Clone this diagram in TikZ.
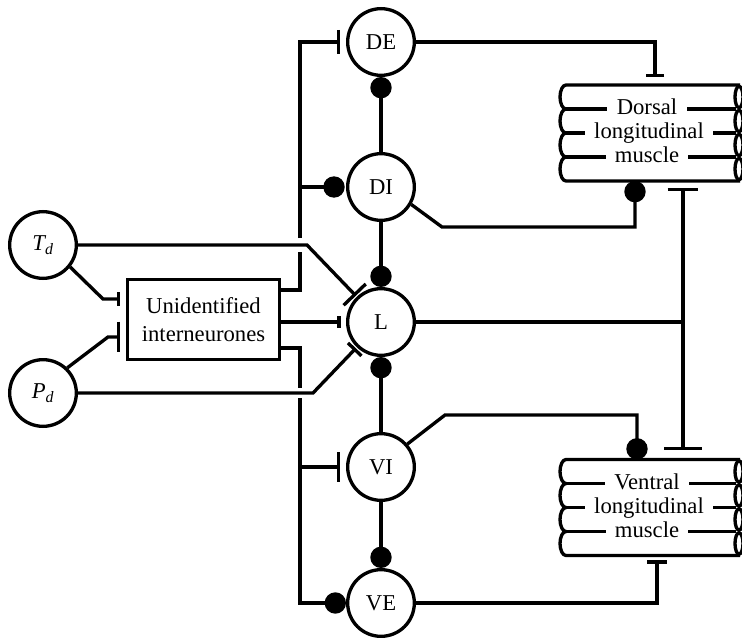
\documentclass[tikz,border=0pt]{standalone}
\usepackage{fontspec}
\setmainfont{Liberation Serif}
\usetikzlibrary{calc}
\usetikzlibrary{arrows.meta}
\tikzset{
	neuron/.style={draw, circle, minimum size=50pt, inner sep=0pt},
	inh/.style={-{Bar[width=#1]}},
	inh/.default=14pt,
	exc/.style={-{Circle[length=16pt]}},
	muscle/.style={minimum width=130.5pt, minimum height=72pt, inner sep=0pt, outer sep=0pt},
	fibre/.style={fill=white, inner xsep=7pt, inner ysep=0pt, text height=12pt, text depth=3.5pt},
}

\begin{document}
\begin{tikzpicture}[x=0.75pt, y=-0.75pt, line width=2.5pt, font=\fontsize{17}{21}\selectfont]
	\useasboundingbox (0,0) rectangle (742,638);
	\node[neuron] (de) at (381,42) {DE};
	\node[neuron] (di) at (381,187) {DI};
	\node[neuron] (l) at (381,322) {L};
	\node[neuron] (vi) at (381,467) {VI};
	\node[neuron] (ve) at (381,603) {VE};
	\node[neuron] (td) at (43,245) {\textit{T\textsubscript{d}}};
	\node[neuron] (pd) at (43,393) {\textit{P\textsubscript{d}}};
	\node[draw, minimum width=114pt, minimum height=60pt, inner sep=0pt, align=center] (ui) at (203.5,319.5) {Unidentified\\interneurones};
	\node[muscle] (dm) at (653,133) {};
	\node[muscle] (vm) at (653,507.5) {};
	\foreach \m in {dm,vm} {
		\draw (\m.north east) -- (\m.north west)
			arc[start angle=90, end angle=270, x radius=4.5pt, y radius=9pt]
			arc[start angle=90, end angle=270, x radius=4.5pt, y radius=9pt]
			arc[start angle=90, end angle=270, x radius=4.5pt, y radius=9pt]
			arc[start angle=90, end angle=270, x radius=4.5pt, y radius=9pt]
			-- (\m.south east);
		\foreach \i in {0,...,3}
			\draw ($(\m.north east)+(-1,24*\i+12)$) ellipse[x radius=3pt, y radius=8pt];
		\foreach \i in {1,2,3}
			\draw ($(\m.north west)+(0,24*\i)$) -- ($(\m.north east)+(-4,24*\i)$);
	}
	\node[fibre] (dm1) at ($(dm.north)+(-6,24)$) {Dorsal};
	\node[fibre] (dm2) at ($(dm.north)+(-4,48)$) {longitudinal};
	\node[fibre] (dm3) at ($(dm.north)+(-6,72)$) {muscle};
	\node[fibre] (vm1) at ($(vm.north)+(-6,24)$) {Ventral};
	\node[fibre] (vm2) at ($(vm.north)+(-4,48)$) {longitudinal};
	\node[fibre] (vm3) at ($(vm.north)+(-6,72)$) {muscle};
	\coordinate (bt) at (300,42);
	\coordinate (bb) at (300,603);
	\coordinate (lj) at (683,322);
	\draw (ui.east |- 0,290) -- (300,290) -- (300,252);
	\draw[inh=18pt, shorten >=4.5pt] (300,238) -- (bt) -- (de);
	\draw[exc, shorten >=1pt] (300,187) -- (di);
	\draw (ui.east |- 0,348) -- (300,348) -- (300,388);
	\draw[exc] (300,398) -- (bb) -- (ve);
	\draw[inh=22pt, shorten >=4.5pt] (300,467) -- (vi);
	\draw[inh=9pt, shorten >=4pt] (ui.east |- 0,322) -- (l);
	\draw[inh=23pt, shorten >=1pt] (td.east) -- (307,245) -- (l);
	\draw[inh=14pt, shorten >=1pt] (pd.east) -- (313,393) -- (l);
	\draw[inh=10pt, shorten >=4.5pt] (td.-39) -- (103,299) -- (ui.west |- 0,299);
	\draw[inh=23pt, shorten >=4.5pt] (pd.46) -- (108,337) -- (ui.west |- 0,337);
	\draw[exc] (di) -- (de);
	\draw[exc] (di) -- (l);
	\draw[exc] (vi) -- (l);
	\draw[exc] (vi) -- (ve);
	\draw[exc] (di.-30) -- (442,227) -- (635,227) -- (dm.south -| 635,0);
	\draw[exc] (vi.41) -- (445,415) -- (637,415) -- (vm.north -| 637,0);
	\draw[inh=13.5pt, shorten >=6pt] (de.east) -- (655,42) -- (dm.north -| 655,0);
	\draw[inh=15pt, shorten >=3.5pt] (ve.east) -- (657,603) -- (vm.south -| 657,0);
	\draw[inh=23pt, shorten >=5pt] (l.east) -- (lj) -- (dm.south -| lj);
	\draw[inh=28pt, shorten >=7pt] (lj) -- (vm.north -| lj);
\end{tikzpicture}
\end{document}
